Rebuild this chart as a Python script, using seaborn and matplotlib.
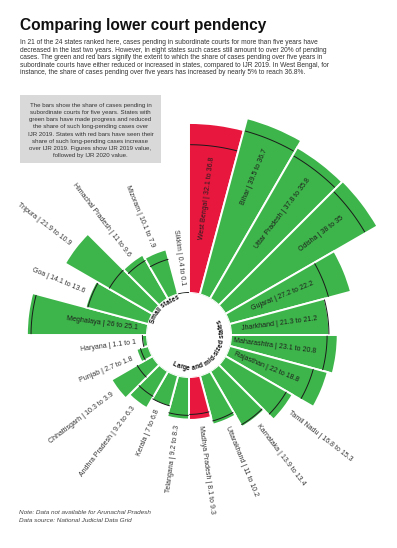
import numpy as np
import pandas as pd
import matplotlib
matplotlib.use('Agg')
import matplotlib.pyplot as plt
import seaborn as sns
from matplotlib.patches import Rectangle
from matplotlib.font_manager import FontProperties, findfont
from matplotlib.ft2font import FT2Font

# Data, clockwise from 12 o'clock (18 large/mid-sized states, then 6 small states)
states = ['West Bengal', 'Bihar', 'Uttar Pradesh', 'Odisha', 'Gujarat', 'Jharkhand',
          'Maharashtra', 'Rajasthan', 'Tamil Nadu', 'Karnataka', 'Uttarakhand',
          'Madhya Pradesh', 'Telangana', 'Kerala', 'Andhra Pradesh', 'Chhattisgarh',
          'Punjab', 'Haryana',
          'Meghalaya', 'Goa', 'Tripura', 'Himachal Pradesh', 'Mizoram', 'Sikkim']
ijr_2019 = [32.1, 39.5, 37.8, 38, 27.2, 21.3, 23.1, 22, 16.8, 13.9, 11, 8.1, 9.2, 7,
            9.2, 10.3, 2.7, 1.1, 26, 14.1, 21.9, 11, 10.1, 0.4]
ijr_2020 = [36.8, 36.7, 35.8, 35, 22.2, 21.2, 20.8, 18.8, 15.3, 13.4, 10.2, 9.3, 8.3,
            6.8, 6.3, 3.9, 1.8, 1, 25.1, 13.6, 10.9, 9.6, 7.9, 0.1]

title = 'Comparing lower court pendency'
intro = ['In 21 of the 24 states ranked here, cases pending in subordinate courts for more than five years have',
         'decreased in the last two years. However, in eight states such cases still amount to over 20% of pending',
         'cases. The green and red bars signify the extent to which the share of cases pending over five years in',
         'subordinate courts have either reduced or increased in states, compared to IJR 2019. In West Bengal, for',
         'instance, the share of cases pending over five years has increased by nearly 5% to reach 36.8%.']
box_lines = ['The bars show the share of cases pending in',
             'subordinate courts for five years. States with',
             'green bars have made progress and reduced',
             'the share of such long-pending cases over',
             'IJR 2019. States with red bars have seen their',
             'share of such long-pending cases increase',
             'over IJR 2019. Figures show IJR 2019 value,',
             'followed by IJR 2020 value.']
notes = ['Note: Data not available for Arunachal Pradesh',
         'Data source: National Judicial Data Grid']

GREEN = '#3db54a'
RED = '#e8173e'

sns.set_theme(style='white')
plt.rcParams['font.family'] = ['Liberation Sans', 'DejaVu Sans']

df = pd.DataFrame({'state': states, 'v19': ijr_2019, 'v20': ijr_2020})
df['bar'] = df[['v19', 'v20']].max(axis=1)
df['mark'] = df[['v19', 'v20']].min(axis=1)
df['color'] = np.where(df['v20'] > df['v19'], RED, GREEN)

W, H = 397, 548
fig = plt.figure(figsize=(W / 100, H / 100), dpi=100)

# polar axes geometry (pixels)
CX, CY = 189, 335
INNER = 42
SCALE = 4.62
R0 = INNER / SCALE
RMAX = 41
R = INNER + RMAX * SCALE

ax = fig.add_axes([(CX - R) / W, (H - CY - R) / H, 2 * R / W, 2 * R / H], projection='polar')
ax.set_theta_zero_location('N')
ax.set_theta_direction(-1)
ax.set_rorigin(-R0)
ax.set_ylim(0, RMAX)
ax.axis('off')

n = len(df)
width = 2 * np.pi / n
theta = (np.arange(n) + 0.5) * width

ax.bar(theta, df['bar'], width=width, bottom=0, color=df['color'],
       edgecolor='white', linewidth=1.4, align='center')

# thin line for the other year's value
for t, m in zip(theta, df['mark']):
    th = np.linspace(t - width * 0.47, t + width * 0.47, 20)
    ax.plot(th, [m] * len(th), color='#1a1a1a', lw=0.7)

# radial labels
for t, (_, row) in zip(theta, df.iterrows()):
    deg = np.degrees(t)
    right = deg < 180
    rot = 90 - deg if right else 270 - deg
    label = f"{row['state']} | {row['v19']:g} to {row['v20']:g}"
    if row['mark'] >= 18:
        r = row['mark'] - 2.2 if right else 2.0
        ha = 'right'
        col = '#1e1e1e'
    else:
        r = row['bar'] + 1.4
        ha = 'left' if right else 'right'
        col = '#333333'
    ax.text(t, r, label, rotation=rot, rotation_mode='anchor', ha=ha, va='center',
            fontsize=5.0, color=col)

# curved group labels around the hole
fp = FontProperties(family='Liberation Sans', weight='bold', size=4.8)
ft = FT2Font(findfont(fp))
ft.set_size(4.8, 100)


def px_to_r(rp):
    return rp / SCALE - R0


def curved(text, center_deg, base_px, clockwise):
    adv = [ft.load_char(ord(c)).linearHoriAdvance / 65536 for c in text]
    rp = base_px + (1.8 if clockwise else -1.8)
    total = sum(adv)
    span = np.degrees(total / rp)
    sgn = 1 if clockwise else -1
    start = center_deg - sgn * span / 2
    s = 0
    for c, a in zip(text, adv):
        phi = start + sgn * np.degrees((s + a / 2) / rp)
        s += a
        rot = -phi if clockwise else 180 - phi
        ax.text(np.radians(phi), px_to_r(base_px), c, rotation=rot, rotation_mode='anchor',
                ha='center', va='baseline', fontproperties=fp, color='#111111')


RC = 36
curved('Small states', 316, RC + 1.2, True)
curved('Large and mid-sized states', 136, RC - 1.2, False)

th = np.linspace(0, 2 * np.pi, 240)
ax.plot(th, [px_to_r(RC)] * len(th), color='#8a8a8a', lw=0.6)

# title, intro, info box, notes
fig.text(20 / W, 1 - 30 / H, title, fontsize=11.2, fontweight='bold', color='#111111',
         va='baseline', ha='left')
for i, line in enumerate(intro):
    fig.text(20 / W, 1 - (42.7 + i * 7.55) / H, line, fontsize=4.75, color='#333333',
             va='center', ha='left')

fig.patches.append(Rectangle((20 / W, 1 - 163 / H), 141 / W, 68 / H,
                             transform=fig.transFigure, facecolor='#d9d9d9',
                             edgecolor='none', zorder=0))
for i, line in enumerate(box_lines):
    fig.text(90.5 / W, 1 - (105 + i * 7.25) / H, line, fontsize=4.4, color='#333333',
             va='center', ha='center')

for i, line in enumerate(notes):
    fig.text(19 / W, 1 - (512 + i * 8) / H, line, fontsize=4.6, color='#444444',
             style='italic', va='center', ha='left')

fig.savefig('out.png', dpi=100)
